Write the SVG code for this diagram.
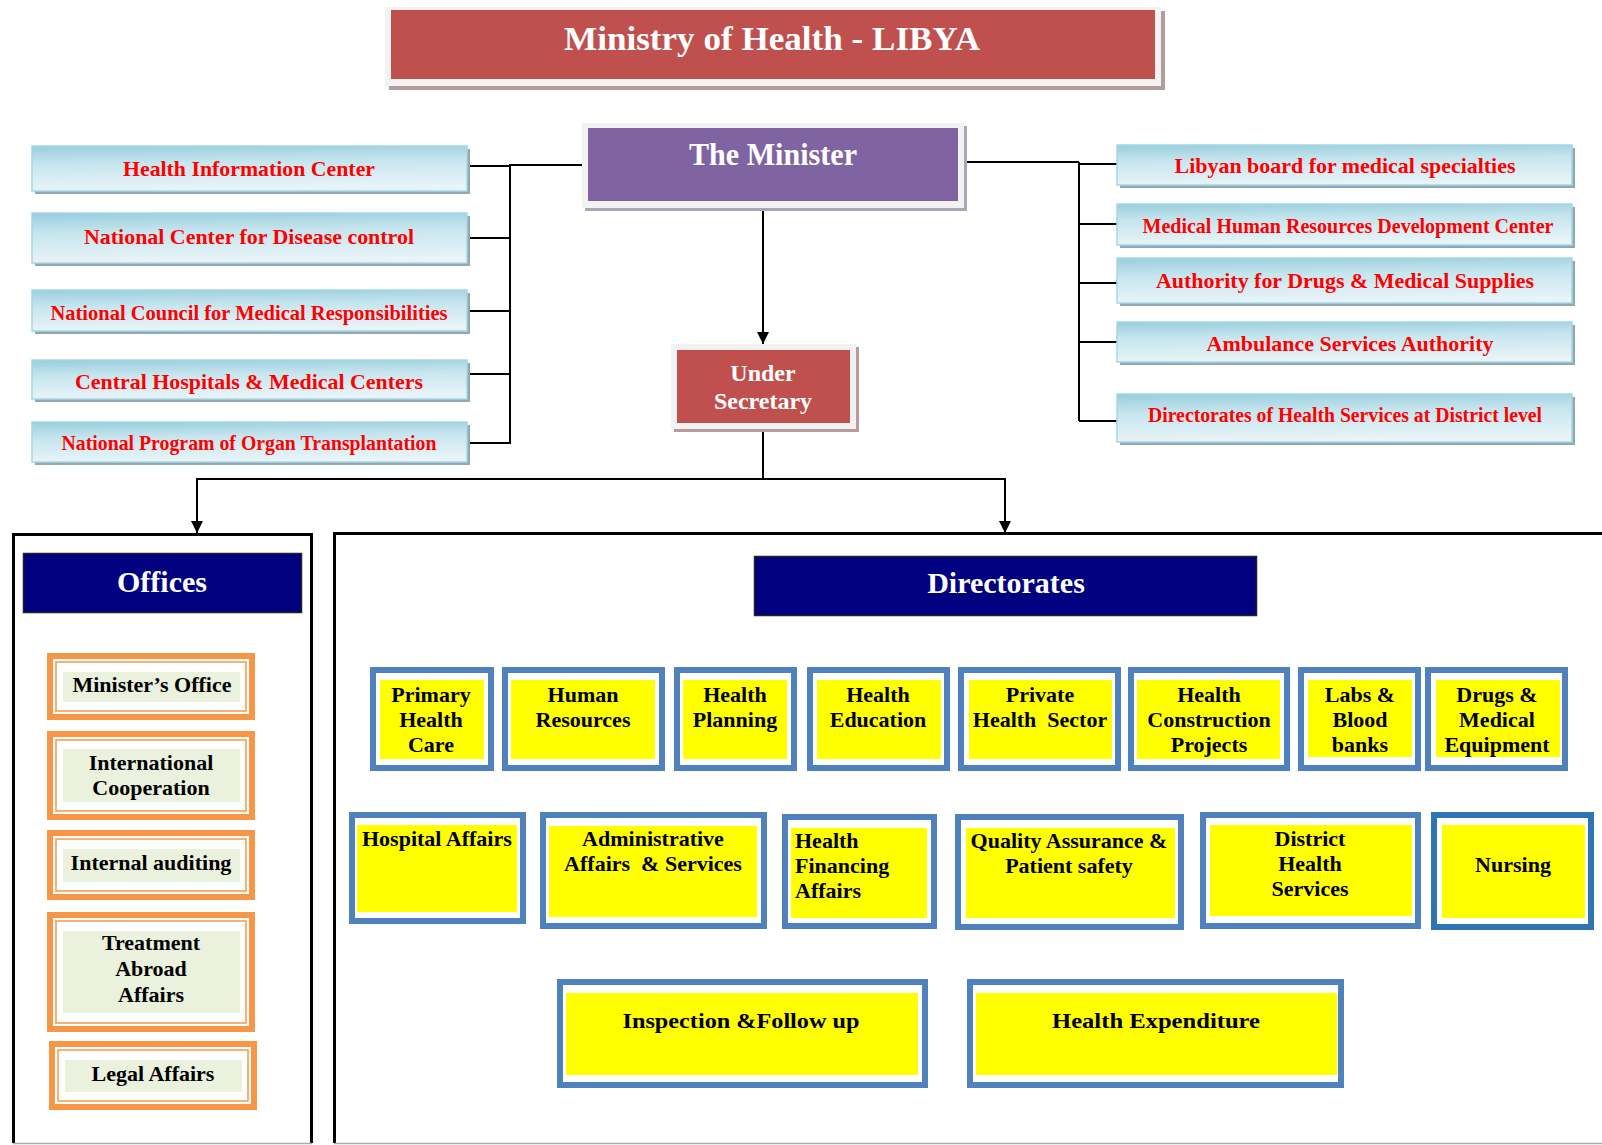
<svg xmlns="http://www.w3.org/2000/svg" width="1602" height="1145" viewBox="0 0 1602 1145">
<style>
  text { font-family: "Liberation Serif", "Times New Roman", serif; font-weight: bold; }
  .wt { fill: #FFFFFF; text-anchor: middle; }
  .rt { fill: #FF0000; text-anchor: middle; font-size: 21px; }
  .bt { fill: #000000; text-anchor: middle; font-size: 22px; }
  .dt { fill: #000000; text-anchor: middle; font-size: 22px; }
  .dl { fill: #000000; text-anchor: start; font-size: 22px; }
  .lb { fill: url(#lbg); stroke: #A7D6E3; stroke-width: 1.5; }
  .lbs { fill: #8FA8B2; }
  .frame { fill: #F2F2F2; }
  .dfo { fill: #FFFFFF; stroke: #4F81BD; stroke-width: 6; }
  .dfi { fill: #FFFF00; }
  .oo { fill: #F79646; }
  .ow { fill: #FFFFFF; }
  .ol { fill: none; stroke: #F79646; stroke-width: 1.5; }
  .og { fill: #EAF1DD; }
  .hdr { fill: #000080; stroke: #222222; stroke-width: 1.5; }
  .conn { fill: none; stroke: #000000; stroke-width: 2; }
  .arr { fill: none; stroke: #000000; stroke-width: 2; marker-end: url(#ah); }
  .panel { fill: none; stroke: #000000; stroke-width: 3; }
  .pbot { stroke: #AAAAAA; stroke-width: 1.5; }
</style>
<defs>
  <linearGradient id="lbg" x1="0" y1="0" x2="0.12" y2="1">
    <stop offset="0" stop-color="#98CEDD"/>
    <stop offset="0.4" stop-color="#C6E5EE"/>
    <stop offset="1" stop-color="#E8F4F8"/>
  </linearGradient>
  <marker id="ah" markerUnits="userSpaceOnUse" markerWidth="12" markerHeight="12" refX="12" refY="6" orient="auto">
    <path d="M0,0 L12,6 L0,12 z" fill="#000000"/>
  </marker>
</defs>
<rect width="1602" height="1145" fill="#FFFFFF"/>

<!-- panels -->
<g id="offices-panel">
  <path class="panel" d="M13.5,1143 V534.5 H311.5 V1143"/>
  <line class="pbot" x1="13" y1="1143.5" x2="312" y2="1143.5"/>
</g>
<g id="directorates-panel">
  <path class="panel" d="M334.5,1143 V533.5 H1605"/>
  <line class="pbot" x1="334" y1="1143.5" x2="1602" y2="1143.5"/>
</g>

<!-- connectors -->
<g id="connectors">
  <line class="arr" x1="763" y1="209" x2="763" y2="344"/>
  <path class="conn" d="M510,165 H582"/>
  <path class="conn" d="M510,164 V444"/>
  <path class="conn" d="M467,166 H510 M467,238 H510 M467,311 H510 M469,374 H510 M469,443 H510"/>
  <path class="conn" d="M964,162 H1079 M1079,162 V421"/>
  <path class="conn" d="M1079,164 H1117 M1079,224 H1117 M1079,283 H1117 M1079,342 H1117 M1079,421 H1117"/>
  <path class="conn" d="M763,431 V479 M196,479 H1006"/>
  <line class="arr" x1="197" y1="479" x2="197" y2="533"/>
  <line class="arr" x1="1005" y1="479" x2="1005" y2="533"/>
</g>

<!-- title -->
<g id="title">
  <rect x="389" y="11" width="776" height="79" fill="#B49C9C"/>
  <rect class="frame" x="385" y="7" width="776" height="79"/>
  <rect x="391" y="10" width="764" height="69" fill="#C0504D"/>
  <text class="wt" x="772" y="50" font-size="34" textLength="416" lengthAdjust="spacingAndGlyphs">Ministry of Health - LIBYA</text>
</g>

<g id="minister">
  <rect x="585" y="126" width="382" height="85" fill="#ABA3B8"/>
  <rect class="frame" x="582" y="123" width="382" height="85"/>
  <rect x="588" y="128" width="370" height="73" fill="#8064A2"/>
  <text class="wt" x="773" y="165" font-size="32" textLength="168" lengthAdjust="spacingAndGlyphs">The Minister</text>
</g>

<g id="under-secretary">
  <rect x="674" y="347" width="185" height="85" fill="#B89A9A"/>
  <rect class="frame" x="671" y="344" width="185" height="85"/>
  <rect x="677" y="350" width="173" height="73" fill="#C0504D"/>
  <text class="wt" x="763" y="381" font-size="24">Under</text>
  <text class="wt" x="763" y="409" font-size="24">Secretary</text>
</g>

<!-- left bodies -->
<g id="health-information-center">
  <rect class="lbs" x="35" y="149" width="435" height="45"/>
  <rect class="lb" x="32" y="146" width="435" height="45"/>
  <text class="rt" x="249" y="176" textLength="252" lengthAdjust="spacingAndGlyphs">Health Information Center</text>
</g>
<g id="national-center-disease-control">
  <rect class="lbs" x="35" y="216" width="435" height="50"/>
  <rect class="lb" x="32" y="213" width="435" height="50"/>
  <text class="rt" x="249" y="244" textLength="330" lengthAdjust="spacingAndGlyphs">National Center for Disease control</text>
</g>
<g id="national-council-medical-responsibilities">
  <rect class="lbs" x="35" y="293" width="435" height="41"/>
  <rect class="lb" x="32" y="290" width="435" height="41"/>
  <text class="rt" x="249" y="320" textLength="397" lengthAdjust="spacingAndGlyphs">National Council for Medical Responsibilities</text>
</g>
<g id="central-hospitals">
  <rect class="lbs" x="35" y="363" width="435" height="39"/>
  <rect class="lb" x="32" y="360" width="435" height="39"/>
  <text class="rt" x="249" y="389" textLength="348" lengthAdjust="spacingAndGlyphs">Central Hospitals &amp; Medical Centers</text>
</g>
<g id="organ-transplantation">
  <rect class="lbs" x="35" y="425" width="435" height="40"/>
  <rect class="lb" x="32" y="422" width="435" height="40"/>
  <text class="rt" x="249" y="450" textLength="375" lengthAdjust="spacingAndGlyphs">National Program of Organ Transplantation</text>
</g>

<!-- right bodies -->
<g id="libyan-board">
  <rect class="lbs" x="1120" y="148" width="455" height="40"/>
  <rect class="lb" x="1117" y="145" width="455" height="40"/>
  <text class="rt" x="1345" y="173" textLength="341" lengthAdjust="spacingAndGlyphs">Libyan board for medical specialties</text>
</g>
<g id="medical-hr-development">
  <rect class="lbs" x="1120" y="207" width="455" height="41"/>
  <rect class="lb" x="1117" y="204" width="455" height="41"/>
  <text class="rt" x="1348" y="233" textLength="411" lengthAdjust="spacingAndGlyphs">Medical Human Resources Development Center</text>
</g>
<g id="drugs-authority">
  <rect class="lbs" x="1120" y="261" width="455" height="45"/>
  <rect class="lb" x="1117" y="258" width="455" height="45"/>
  <text class="rt" x="1345" y="288" textLength="378" lengthAdjust="spacingAndGlyphs">Authority for Drugs &amp; Medical Supplies</text>
</g>
<g id="ambulance-authority">
  <rect class="lbs" x="1120" y="325" width="455" height="40"/>
  <rect class="lb" x="1117" y="322" width="455" height="40"/>
  <text class="rt" x="1350" y="351" textLength="287" lengthAdjust="spacingAndGlyphs">Ambulance Services Authority</text>
</g>
<g id="district-directorates">
  <rect class="lbs" x="1120" y="397" width="455" height="48"/>
  <rect class="lb" x="1117" y="394" width="455" height="48"/>
  <text class="rt" x="1345" y="422" textLength="394" lengthAdjust="spacingAndGlyphs">Directorates of Health Services at District level</text>
</g>

<!-- Offices -->
<g id="offices-header">
  <rect class="hdr" x="23.5" y="553.5" width="278" height="59"/>
  <text class="wt" x="162" y="592" font-size="30">Offices</text>
</g>
<g id="ministers-office">
  <rect class="oo" x="47" y="653" width="208" height="67"/>
  <rect class="ow" x="53" y="659" width="196" height="55"/>
  <rect class="ol" x="56" y="662" width="190" height="49"/>
  <rect class="og" x="63" y="672" width="177" height="30"/>
  <text class="bt" x="152" y="692">Minister’s Office</text>
</g>
<g id="international-cooperation">
  <rect class="oo" x="47" y="731" width="208" height="89"/>
  <rect class="ow" x="53" y="737" width="196" height="77"/>
  <rect class="ol" x="56" y="740" width="190" height="71"/>
  <rect class="og" x="63" y="749" width="177" height="53"/>
  <text class="bt" x="151" y="770">International</text>
  <text class="bt" x="151" y="795">Cooperation</text>
</g>
<g id="internal-auditing">
  <rect class="oo" x="47" y="830" width="208" height="70"/>
  <rect class="ow" x="53" y="836" width="196" height="58"/>
  <rect class="ol" x="56" y="839" width="190" height="52"/>
  <rect class="og" x="63" y="849" width="177" height="33"/>
  <text class="bt" x="151" y="870">Internal auditing</text>
</g>
<g id="treatment-abroad">
  <rect class="oo" x="47" y="912" width="208" height="120"/>
  <rect class="ow" x="53" y="918" width="196" height="108"/>
  <rect class="ol" x="56" y="921" width="190" height="102"/>
  <rect class="og" x="63" y="931" width="177" height="82"/>
  <text class="bt" x="151" y="950">Treatment</text>
  <text class="bt" x="151" y="976">Abroad</text>
  <text class="bt" x="151" y="1002">Affairs</text>
</g>
<g id="legal-affairs">
  <rect class="oo" x="49" y="1041" width="208" height="69"/>
  <rect class="ow" x="55" y="1047" width="196" height="57"/>
  <rect class="ol" x="58" y="1050" width="190" height="51"/>
  <rect class="og" x="65" y="1060" width="177" height="32"/>
  <text class="bt" x="153" y="1081">Legal Affairs</text>
</g>

<!-- Directorates -->
<g id="directorates-header">
  <rect class="hdr" x="754.5" y="556.5" width="502" height="59"/>
  <text class="wt" x="1006" y="593" font-size="30">Directorates</text>
</g>

<g id="primary-health-care">
  <rect class="dfo" x="373" y="670" width="118" height="98"/>
  <rect class="dfi" x="380" y="680" width="104" height="79"/>
  <text class="dt" x="431" y="702">Primary</text>
  <text class="dt" x="431" y="727">Health</text>
  <text class="dt" x="431" y="752">Care</text>
</g>
<g id="human-resources">
  <rect class="dfo" x="505" y="670" width="157" height="98"/>
  <rect class="dfi" x="511" y="680" width="144" height="79"/>
  <text class="dt" x="583" y="702">Human</text>
  <text class="dt" x="583" y="727">Resources</text>
</g>
<g id="health-planning">
  <rect class="dfo" x="677" y="670" width="117" height="98"/>
  <rect class="dfi" x="683" y="680" width="104" height="79"/>
  <text class="dt" x="735" y="702">Health</text>
  <text class="dt" x="735" y="727">Planning</text>
</g>
<g id="health-education">
  <rect class="dfo" x="810" y="670" width="137" height="98"/>
  <rect class="dfi" x="817" y="680" width="124" height="79"/>
  <text class="dt" x="878" y="702">Health</text>
  <text class="dt" x="878" y="727">Education</text>
</g>
<g id="private-health-sector">
  <rect class="dfo" x="961" y="670" width="157" height="98"/>
  <rect class="dfi" x="969" y="680" width="143" height="79"/>
  <text class="dt" x="1040" y="702">Private</text>
  <text class="dt" x="1040" y="727" xml:space="preserve">Health  Sector</text>
</g>
<g id="health-construction-projects">
  <rect class="dfo" x="1131" y="670" width="156" height="98"/>
  <rect class="dfi" x="1137" y="680" width="143" height="79"/>
  <text class="dt" x="1209" y="702">Health</text>
  <text class="dt" x="1209" y="727">Construction</text>
  <text class="dt" x="1209" y="752">Projects</text>
</g>
<g id="labs-blood-banks">
  <rect class="dfo" x="1301" y="670" width="117" height="98"/>
  <rect class="dfi" x="1308" y="680" width="104" height="77"/>
  <text class="dt" x="1360" y="702">Labs &amp;</text>
  <text class="dt" x="1360" y="727">Blood</text>
  <text class="dt" x="1360" y="752">banks</text>
</g>
<g id="drugs-medical-equipment">
  <rect class="dfo" x="1428" y="670" width="137" height="98"/>
  <rect class="dfi" x="1436" y="680" width="124" height="77"/>
  <text class="dt" x="1497" y="702">Drugs &amp;</text>
  <text class="dt" x="1497" y="727">Medical</text>
  <text class="dt" x="1497" y="752">Equipment</text>
</g>

<g id="hospital-affairs">
  <rect class="dfo" x="352" y="815" width="171" height="106"/>
  <rect class="dfi" x="357" y="825" width="160" height="87"/>
  <text class="dl" x="362" y="846">Hospital Affairs</text>
</g>
<g id="administrative-affairs">
  <rect class="dfo" x="543" y="815" width="221" height="111"/>
  <rect class="dfi" x="549" y="826" width="208" height="91"/>
  <text class="dt" x="653" y="846">Administrative</text>
  <text class="dt" x="653" y="871" xml:space="preserve">Affairs  &amp; Services</text>
</g>
<g id="health-financing-affairs">
  <rect class="dfo" x="785" y="817" width="149" height="109"/>
  <rect class="dfi" x="791" y="828" width="136" height="90"/>
  <text class="dl" x="795" y="848">Health</text>
  <text class="dl" x="795" y="873">Financing</text>
  <text class="dl" x="795" y="898">Affairs</text>
</g>
<g id="quality-assurance">
  <rect class="dfo" x="958" y="817" width="223" height="110"/>
  <rect class="dfi" x="966" y="828" width="209" height="90"/>
  <text class="dt" x="1069" y="848">Quality Assurance &amp;</text>
  <text class="dt" x="1069" y="873">Patient safety</text>
</g>
<g id="district-health-services">
  <rect class="dfo" x="1203" y="815" width="215" height="111"/>
  <rect class="dfi" x="1210" y="825" width="202" height="91"/>
  <text class="dt" x="1310" y="846">District</text>
  <text class="dt" x="1310" y="871">Health</text>
  <text class="dt" x="1310" y="896">Services</text>
</g>
<g id="nursing">
  <rect class="dfo" x="1434" y="815" width="157" height="112" style="stroke:#2E75B6"/>
  <rect class="dfi" x="1442" y="825" width="143" height="93"/>
  <text class="dt" x="1513" y="872">Nursing</text>
</g>

<g id="inspection-follow-up">
  <rect class="dfo" x="560" y="982" width="365" height="103"/>
  <rect class="dfi" x="566" y="993" width="352" height="82"/>
  <text class="dt" x="741" y="1028" font-size="26" textLength="237" lengthAdjust="spacingAndGlyphs">Inspection &amp;Follow up</text>
</g>
<g id="health-expenditure">
  <rect class="dfo" x="970" y="982" width="371" height="103"/>
  <rect class="dfi" x="976" y="993" width="361" height="82"/>
  <text class="dt" x="1156" y="1028" font-size="26" textLength="208" lengthAdjust="spacingAndGlyphs">Health Expenditure</text>
</g>
</svg>
